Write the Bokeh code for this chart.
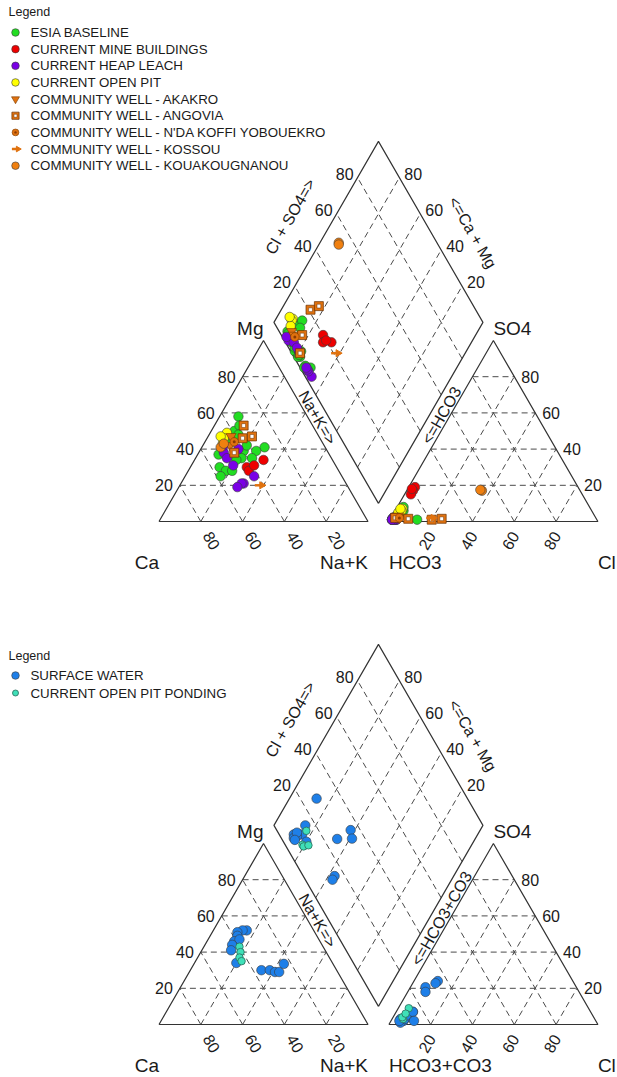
import math
from bokeh.plotting import figure
from bokeh.core.properties import value
from bokeh.embed import file_html
from bokeh.resources import INLINE

# ---------------- DATA (percent of meq/L; Ca = 100-Mg-NaK, HCO3 = 100-SO4-Cl) ----------------
esia_mg  = [58, 50, 53, 46, 41, 39, 39, 35, 35, 34, 30, 28, 25, 28, 44, 42, 37, 48]
esia_nak = [ 9, 11, 12, 11, 30, 27, 21, 22, 27, 20, 14, 18, 17, 21, 13, 21, 10, 14]
esia_so4 = [ 2,  6,  3,  2,  2,  1,  3,  1,  1,  2,  1,  1,  1,  1,  1,  2,  1,  8]
esia_cl  = [ 2,  4,  2,  2,  3,  2,  2,  2,  1,  1,  2,  1,  2,  1, 13,  1,  3,  3]

mine_mg  = [34, 30, 28, 31]
mine_nak = [33, 27, 29, 30]
mine_so4 = [19, 17, 15, 18]
mine_cl  = [ 3,  3,  3,  2]

heap_mg  = [38, 35, 31, 40, 25, 21, 21, 19, 42]
heap_nak = [12, 15, 20, 18, 33, 30, 29, 28, 10]
heap_so4 = [ 1,  1,  2,  1,  1,  2,  1,  1,  1]
heap_cl  = [ 1,  3,  2,  3,  2,  1,  2,  2,  1]

pit_mg  = [49, 46, 43, 47]
pit_nak = [ 8,  8,  9,  6]
pit_so4 = [ 7,  6,  5,  7]
pit_cl  = [ 3,  3,  2,  2]

akakro_mg  = [47, 42]
akakro_nak = [11, 13]
akakro_so4 = [ 3,  2]
akakro_cl  = [ 3,  4]

angovia_mg  = [53, 46, 47, 38]
angovia_nak = [14, 17, 21, 17]
angovia_so4 = [1.0, 1.5, 2.0, 1.5]
angovia_cl  = [20.0, 24.5, 2.0, 8.5]

nda_mg  = [44]
nda_nak = [14]
nda_so4 = [2]
nda_cl  = [4]

kossou_mg  = [20]
kossou_nak = [38]
kossou_so4 = [2]
kossou_cl  = [19]

koua_mg  = [41, 43]
koua_nak = [9.0, 9.5]
koua_so4 = [17.0, 17.5]
koua_cl  = [36, 35]

surf_mg  = [52, 52, 51, 49, 46, 47, 44, 41, 34, 30, 30, 29, 29, 33.5]
surf_nak = [16, 14, 12, 13, 13, 15, 13, 14, 20, 34, 38, 41, 43, 43]
surf_so4 = [4, 2, 3, 20.6, 1, 7, 3, 2, 5, 18, 24, 22.8, 7, 2]
surf_cl  = [7, 6, 4, 7.2, 5, 8, 6, 4, 6, 8.5, 11.4, 10.9, 8, 11]

pond_mg  = [43, 40, 37, 35]
pond_nak = [17, 19, 20, 22]
pond_so4 = [9, 3, 4, 6]
pond_cl  = [5, 5.3, 4.4, 5]

ticks = [20, 40, 60, 80]
legend1_labels = ["ESIA BASELINE", "CURRENT MINE BUILDINGS", "CURRENT HEAP LEACH", "CURRENT OPEN PIT",
                  "COMMUNITY WELL - AKAKRO", "COMMUNITY WELL - ANGOVIA",
                  "COMMUNITY WELL - N'DA KOFFI YOBOUEKRO", "COMMUNITY WELL - KOSSOU",
                  "COMMUNITY WELL - KOUAKOUGNANOU"]
legend2_labels = ["SURFACE WATER", "CURRENT OPEN PIT PONDING"]

# ---------------- geometry ----------------
S = 209.0            # px per unit side
G = 0.1              # gap between triangles
H = math.sqrt(3) / 2
X0PX, Y0PX = 158.5, 521.0   # page position of Ca corner of first diagram
OY2 = -503.0 / S     # vertical offset of second diagram
PAGE0 = 0            # page offset of the figure's top-left corner

FONT = value("Liberation Sans")
TXT = "#1a1a1a"


def X(px):
    return (px - X0PX) / S


def Y(py):
    return (Y0PX - py) / S


W, HT = 617, 1077
p = figure(width=W, height=HT, x_range=(X(PAGE0), X(PAGE0 + W)), y_range=(Y(PAGE0 + HT), Y(PAGE0)),
           output_backend="svg", toolbar_location=None, x_axis_location=None,
           y_axis_location=None, min_border=0)
p.grid.visible = False
p.outline_line_color = None
p.background_fill_color = "white"
p.border_fill_color = "white"


def cat_xy(mg, nak, oy):
    xs = [n / 100 + 0.5 * m / 100 for m, n in zip(mg, nak)]
    ys = [H * m / 100 + oy for m in mg]
    return xs, ys


def an_xy(so4, cl, oy):
    xs = [1 + G + c / 100 + 0.5 * s / 100 for s, c in zip(so4, cl)]
    ys = [H * s / 100 + oy for s in so4]
    return xs, ys


def dia_xy(mg, nak, so4, cl, oy):
    xs, ys = [], []
    for m, n, s, c in zip(mg, nak, so4, cl):
        a = (100 - n) / 100.0
        b = (s + c) / 100.0
        xs.append(1 + G / 2 + 0.5 * (b - a))
        ys.append(H * (G + a + b) + oy)
    return xs, ys


def seg(x0, y0, x1, y1, dashed=False):
    if dashed:
        p.line([x0, x1], [y0, y1], line_color="#4a4a4a", line_width=1, line_dash="6 4")
    else:
        p.line([x0, x1], [y0, y1], line_color="#333333", line_width=1.2)


def txt(x, y, s, size="16px", align="center", base="middle", angle=0.0):
    p.text(x=[x], y=[y], text=[s], text_font=FONT, text_font_size=size, text_color=TXT,
           text_align=align, text_baseline=base, angle=angle)


def draw_frame(oy, anion_name):
    lt = [(0, 0), (1, 0), (0.5, H)]
    rt = [(1 + G, 0), (2 + G, 0), (1.5 + G, H)]
    B = (1 + G / 2, G * H)
    L = (0.5 + G / 2, H * (1 + G))
    T = (1 + G / 2, H * (2 + G))
    R = (1.5 + G / 2, H * (1 + G))
    for f in ticks:
        t = f / 100
        seg(0.5 * t, H * t + oy, 1 - 0.5 * t, H * t + oy, True)
        seg(t, oy, 0.5 + 0.5 * t, H * (1 - t) + oy, True)
        seg(t, oy, 0.5 * t, H * t + oy, True)
        ox = 1 + G
        seg(ox + 0.5 * t, H * t + oy, ox + 1 - 0.5 * t, H * t + oy, True)
        seg(ox + t, oy, ox + 0.5 + 0.5 * t, H * (1 - t) + oy, True)
        seg(ox + t, oy, ox + 0.5 * t, H * t + oy, True)
        p1 = (B[0] + t * (L[0] - B[0]), B[1] + t * (L[1] - B[1]))
        p2 = (R[0] + t * (T[0] - R[0]), R[1] + t * (T[1] - R[1]))
        seg(p1[0], p1[1] + oy, p2[0], p2[1] + oy, True)
        q1 = (B[0] + t * (R[0] - B[0]), B[1] + t * (R[1] - B[1]))
        q2 = (L[0] + t * (T[0] - L[0]), L[1] + t * (T[1] - L[1]))
        seg(q1[0], q1[1] + oy, q2[0], q2[1] + oy, True)
    for tri in (lt, rt):
        xs = [v[0] for v in tri] + [tri[0][0]]
        ys = [v[1] + oy for v in tri] + [tri[0][1] + oy]
        p.line(xs, ys, line_color="#333333", line_width=1.2)
    dx = [B[0], L[0], T[0], R[0], B[0]]
    dy = [B[1] + oy, L[1] + oy, T[1] + oy, R[1] + oy, B[1] + oy]
    p.line(dx, dy, line_color="#333333", line_width=1.2)

    for f in ticks:
        t = f / 100
        txt(0.5 * t - 7 / S, H * t + oy, str(f), align="right")
        txt(2 + G - 0.5 * t + 7 / S, H * t + oy, str(f), align="left")
        txt(1 - t + 11 / S, oy - 19 / S, str(f), angle=-math.pi / 3)
        txt(1 + G + t - 4 / S, oy - 19 / S, str(f), angle=math.pi / 3)
        ul = (L[0] + t * (T[0] - L[0]), L[1] + t * (T[1] - L[1]))
        txt(ul[0] - 4 / S, ul[1] + oy + 4 / S, str(f), align="right")
        ur = (R[0] + t * (T[0] - R[0]), R[1] + t * (T[1] - R[1]))
        txt(ur[0] + 5 / S, ur[1] + oy + 4 / S, str(f), align="left")

    txt(0.5, H + oy + 12 / S, "Mg", size="19px", align="right")
    txt(1.5 + G, H + oy + 12 / S, "SO4", size="19px", align="left")
    txt(0, oy - 41 / S, "Ca", size="19px", align="right")
    txt(1, oy - 41 / S, "Na+K", size="19px", align="right")
    txt(1 + G, oy - 41 / S, anion_name, size="19px", align="left")
    txt(2 + G, oy - 41 / S, "Cl", size="19px", align="left")

    txt(X(317), Y(417) + oy, "Na+K=>", angle=-math.pi / 3)
    txt(X(441), Y(415) + oy, "<=" + anion_name, angle=math.pi / 3)
    txt(X(290), Y(216) + oy, "Cl + SO4=>", angle=math.pi / 3)
    txt(X(472), Y(232) + oy, "<=Ca + Mg", angle=-math.pi / 3)


draw_frame(0.0, "HCO3")
draw_frame(OY2, "HCO3+CO3")

OUT = "#3a3a3a"


def draw_marker(xs, ys, style, k):
    kind, color = style
    if kind == "circle":
        p.scatter(xs, ys, marker="circle", size=9.5 * k, fill_color=color, line_color=OUT, line_width=0.6)
    elif kind == "small":
        p.scatter(xs, ys, marker="circle", size=7.5 * k, fill_color=color, line_color="#2a6a5a", line_width=0.8)
    elif kind == "itri":
        p.scatter(xs, ys, marker="inverted_triangle", size=10 * k, fill_color=color, line_color="#7a3a00", line_width=0.6)
    elif kind == "sq":
        p.scatter(xs, ys, marker="square", size=9 * k, fill_color=color, line_color="#6a3000", line_width=0.7)
        p.scatter(xs, ys, marker="square", size=3.8 * k, fill_color="white", line_color="#6a3000", line_width=0.5)
    elif kind == "nda":
        p.scatter(xs, ys, marker="circle", size=8.5 * k, fill_color=color, line_color="#7a3a00", line_width=0.6)
        p.scatter(xs, ys, marker="circle", size=3 * k, fill_color="#8a3a00", line_color=None)
    elif kind == "arrow":
        p.scatter(xs, ys, marker="dash", size=9 * k, line_color=color, line_width=2.5)
        p.scatter([x + 2.5 / S for x in xs], ys, marker="triangle", angle=-math.pi / 2, size=7 * k,
                  fill_color=color, line_color=color)


def plot_group(mg, nak, so4, cl, oy, style):
    for xs, ys in (cat_xy(mg, nak, oy), an_xy(so4, cl, oy), dia_xy(mg, nak, so4, cl, oy)):
        draw_marker(xs, ys, style, 1.0)


GREEN, RED, PURPLE, YELLOW = "#22DD22", "#EE0000", "#7A00E6", "#FFFF00"
ORANGE = "#E0720F"
ORANGE2 = "#F08010"
BLUE, TEAL = "#1E7FE8", "#3FE0B8"

styles1 = [("circle", GREEN), ("circle", RED), ("circle", PURPLE), ("circle", YELLOW),
           ("itri", ORANGE), ("sq", ORANGE), ("nda", ORANGE), ("arrow", ORANGE), ("circle", ORANGE2)]
groups1 = [(esia_mg, esia_nak, esia_so4, esia_cl), (mine_mg, mine_nak, mine_so4, mine_cl),
           (heap_mg, heap_nak, heap_so4, heap_cl), (pit_mg, pit_nak, pit_so4, pit_cl),
           (akakro_mg, akakro_nak, akakro_so4, akakro_cl),
           (angovia_mg, angovia_nak, angovia_so4, angovia_cl),
           (nda_mg, nda_nak, nda_so4, nda_cl), (kossou_mg, kossou_nak, kossou_so4, kossou_cl),
           (koua_mg, koua_nak, koua_so4, koua_cl)]
for g, st in zip(groups1, styles1):
    plot_group(*g, 0.0, st)

styles2 = [("circle", BLUE), ("small", TEAL)]
groups2 = [(surf_mg, surf_nak, surf_so4, surf_cl), (pond_mg, pond_nak, pond_so4, pond_cl)]
for g, st in zip(groups2, styles2):
    plot_group(*g, OY2, st)


def legend(top_py, first_py, step, labels, styles):
    txt(X(8), Y(top_py), "Legend", size="12.5px", align="left")
    for i, (lab, st) in enumerate(zip(labels, styles)):
        py = first_py + i * step
        draw_marker([X(15)], [Y(py)], st, 0.8)
        txt(X(30), Y(py), lab, size="13.3px", align="left")


legend(11, 32, 16.65, legend1_labels, styles1)
legend(655, 675, 17.5, legend2_labels, styles2)

open("out.html", "w").write(file_html(p, INLINE))
